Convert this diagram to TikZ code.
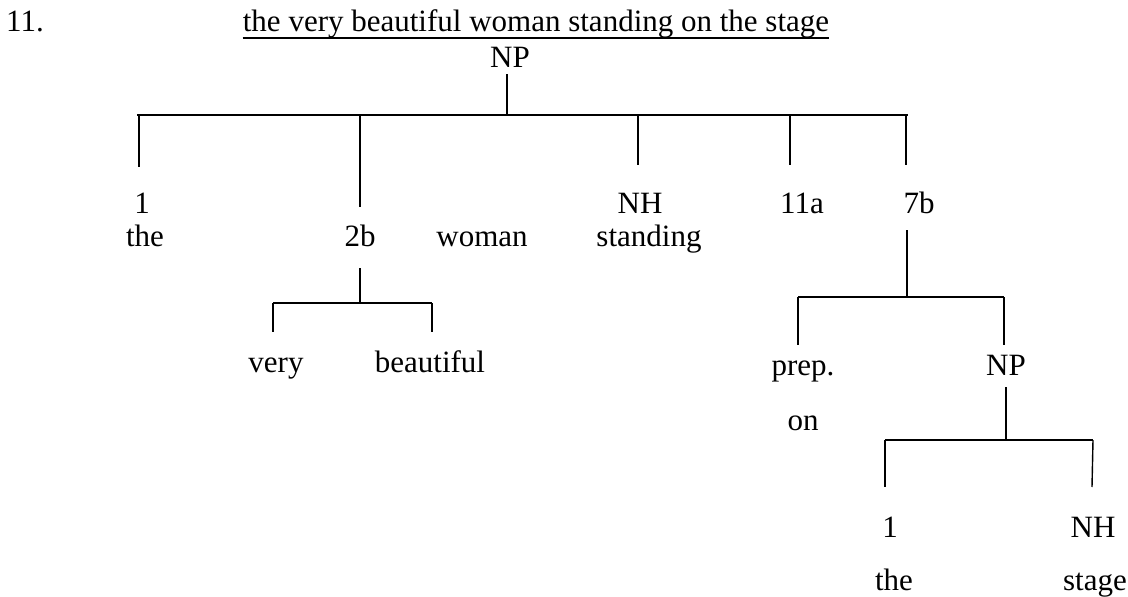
\documentclass[tikz,border=0pt]{standalone}
\usepackage{fontspec}
\setmainfont{Liberation Serif}
\begin{document}
\begin{tikzpicture}[x=1pt,y=-1pt,
  lbl/.style={inner sep=0pt, anchor=base, font=\fontsize{31}{37}\selectfont},
  ln/.style={line width=1.4pt},
  bar/.style={line width=1.9pt}]
\useasboundingbox (0,0) rectangle (1128,597);
% heading
\node[lbl, anchor=base west] (num) at (6,31) {11.};
\node[lbl] (title) at (536,31) {the very beautiful woman standing on the stage};
\draw[line width=1.5pt] ([yshift=-7pt]title.base west) -- ([yshift=-7pt]title.base east);
% top NP
\node[lbl] (np) at (510,67) {NP};
\coordinate (npbot) at (507,74);
\coordinate (b1) at (507,115);
\coordinate (b1L) at (137,115);
\coordinate (b1R) at (908,115);
\draw[ln] (npbot) -- (b1);
\draw[bar] (b1L) -- (b1R);
% drops from main bar
\coordinate (d1) at (139,167);
\coordinate (d2) at (360,207);
\coordinate (d3) at (638,165);
\coordinate (d4) at (790,165);
\coordinate (d5) at (906,165);
\foreach \d in {d1,d2,d3,d4,d5} \draw[ln] (\d |- b1) -- (\d);
% row 1
\node[lbl] (one) at (142,213) {1};
\node[lbl] (nh) at (640,213) {NH};
\node[lbl] (elevena) at (802,213) {11a};
\node[lbl] (sevenb) at (919,213) {7b};
% row 2
\node[lbl] (the) at (145,246) {the};
\node[lbl] (twob) at (360,246) {2b};
\node[lbl] (woman) at (482,246) {woman};
\node[lbl] (standing) at (649,246) {standing};
% 2b subtree
\coordinate (t2top) at (360,268);
\coordinate (b2) at (360,303);
\coordinate (b2L) at (273,303);
\coordinate (b2R) at (432,303);
\draw[ln] (t2top) -- (b2);
\draw[bar] (b2L) -- (b2R);
\coordinate (e1) at (273,332);
\coordinate (e2) at (432,332);
\draw[ln] (b2L) -- (e1);
\draw[ln] (b2R) -- (e2);
\node[lbl] (very) at (276,372) {very};
\node[lbl] (beautiful) at (430,372) {beautiful};
% 7b subtree
\coordinate (t7top) at (907,230);
\coordinate (b3) at (907,297);
\coordinate (b3L) at (798,297);
\coordinate (b3R) at (1004,297);
\draw[ln] (t7top) -- (b3);
\draw[bar] (b3L) -- (b3R);
\coordinate (f1) at (798,345);
\coordinate (f2) at (1004,345);
\draw[ln] (b3L) -- (f1);
\draw[ln] (b3R) -- (f2);
\node[lbl] (prep) at (803,375) {prep.};
\node[lbl] (np2) at (1006,375) {NP};
\node[lbl] (on) at (803,430) {on};
% inner NP subtree
\coordinate (np2bot) at (1006,387);
\coordinate (b4) at (1006,440);
\coordinate (b4L) at (885,440);
\coordinate (b4R) at (1093,440);
\draw[ln] (np2bot) -- (b4);
\draw[bar] (b4L) -- (b4R);
\coordinate (g1) at (885,487);
\coordinate (g2) at (1092,487);
\draw[ln] (b4L) -- (g1);
\draw[ln] (b4R |- b4) -- (g2);
\node[lbl] (one2) at (890,537) {1};
\node[lbl] (nh2) at (1093,537) {NH};
\node[lbl] (the2) at (894,590) {the};
\node[lbl] (stage) at (1095,590) {stage};
\end{tikzpicture}
\end{document}
